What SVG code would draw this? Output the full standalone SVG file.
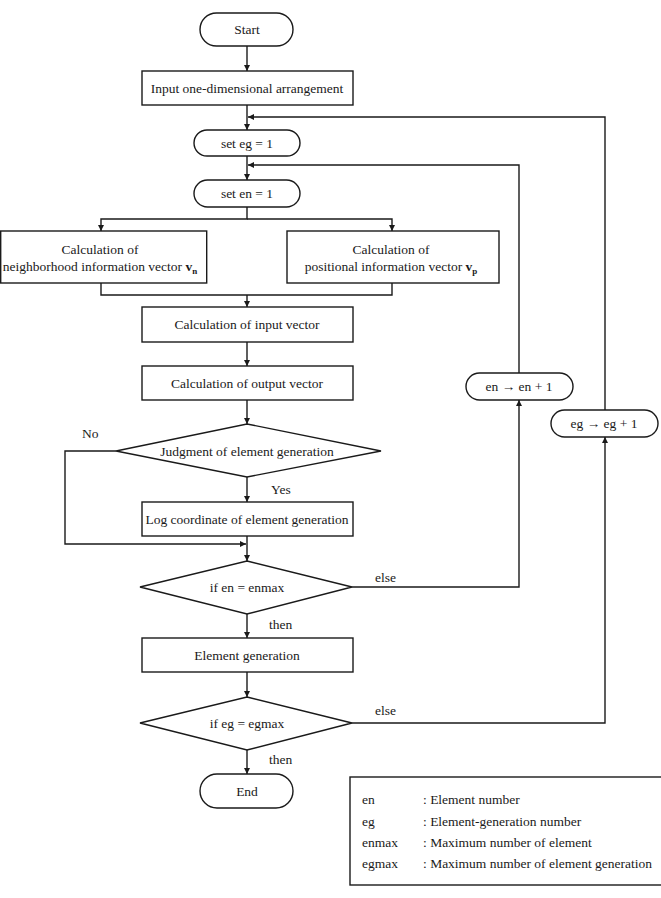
<svg xmlns="http://www.w3.org/2000/svg" width="661" height="898" viewBox="0 0 661 898" font-family="'Liberation Serif', 'Times New Roman', 'DejaVu Serif', serif" font-size="13">
<style>
.s{fill:#fff;stroke:#1a1a1a;stroke-width:1.4}
.c{fill:none;stroke:#1a1a1a;stroke-width:1.4}
text{font-family:'Liberation Serif','Times New Roman','DejaVu Serif',serif;font-size:13.5px;fill:#1a1a1a}
.m{text-anchor:middle}
.b{font-weight:bold}
</style>
<defs>
<marker id="a" markerWidth="8" markerHeight="8" refX="6" refY="3" orient="auto" markerUnits="userSpaceOnUse"><path d="M0,0 L6,3 L0,6 Z" fill="#1a1a1a"/></marker>
</defs>
<rect width="661" height="898" fill="#fff"/>
<g id="connectors">
<path class="c" d="M247,46 V71" marker-end="url(#a)"/>
<path class="c" d="M247,105 V130" marker-end="url(#a)"/>
<path class="c" d="M605,410 V117 H248" marker-end="url(#a)"/>
<path class="c" d="M247,156 V180" marker-end="url(#a)"/>
<path class="c" d="M519,373 V165 H248" marker-end="url(#a)"/>
<path class="c" d="M247,207 V219 H101 V231" marker-end="url(#a)"/>
<path class="c" d="M247,219 H392 V231" marker-end="url(#a)"/>
<path class="c" d="M101,283 V295 H392 V283"/>
<path class="c" d="M247,295 V307" marker-end="url(#a)"/>
<path class="c" d="M247,342 V366" marker-end="url(#a)"/>
<path class="c" d="M247,400 V424" marker-end="url(#a)"/>
<path class="c" d="M247,477 V502" marker-end="url(#a)"/>
<path class="c" d="M116,451 H65 V544 H246" marker-end="url(#a)"/>
<path class="c" d="M247,536 V561" marker-end="url(#a)"/>
<path class="c" d="M352,587 H519 V400" marker-end="url(#a)"/>
<path class="c" d="M247,614 V638" marker-end="url(#a)"/>
<path class="c" d="M247,672 V697" marker-end="url(#a)"/>
<path class="c" d="M352,723 H605 V437" marker-end="url(#a)"/>
<path class="c" d="M247,750 V774" marker-end="url(#a)"/>
</g>
<g id="start"><rect class="s" x="200" y="13" width="93" height="33" rx="16.5"/><text class="m" x="247" y="34">Start</text></g>
<g id="input"><rect class="s" x="142" y="71" width="211" height="34"/><text class="m" x="247" y="93">Input one-dimensional arrangement</text></g>
<g id="seteg"><rect class="s" x="194" y="130" width="106" height="26" rx="13"/><text class="m" x="247" y="148">set eg = 1</text></g>
<g id="seten"><rect class="s" x="194" y="180" width="106" height="27" rx="13.5"/><text class="m" x="247" y="198">set en = 1</text></g>
<g id="neigh"><rect class="s" x="0.7" y="231" width="206" height="52"/><text class="m" x="100" y="254">Calculation of</text><text class="m" x="100" y="271">neighborhood information vector <tspan class="b">  v</tspan><tspan class="b" font-size="9" dy="3">n</tspan></text></g>
<g id="pos"><rect class="s" x="287" y="231" width="212" height="52"/><text class="m" x="391" y="254">Calculation of</text><text class="m" x="391" y="271">positional information vector <tspan class="b">  v</tspan><tspan class="b" font-size="9" dy="3">p</tspan></text></g>
<g id="inputvec"><rect class="s" x="142" y="307" width="211" height="35"/><text class="m" x="247" y="329">Calculation of input vector</text></g>
<g id="outputvec"><rect class="s" x="142" y="366" width="211" height="34"/><text class="m" x="247" y="388">Calculation of output vector</text></g>
<g id="judge"><path class="s" d="M247,424 L381,451 L247,477 L116,451 Z"/><text class="m" x="247" y="456">Judgment of element generation</text></g>
<text x="82" y="438">No</text>
<text x="271" y="494">Yes</text>
<g id="log"><rect class="s" x="142" y="502" width="211" height="34"/><text class="m" x="247" y="524">Log coordinate of element generation</text></g>
<g id="ifen"><path class="s" d="M247,561 L352,587 L247,614 L140,587 Z"/><text class="m" x="247" y="592">if en = enmax</text></g>
<text x="375" y="582">else</text>
<text x="269" y="629">then</text>
<g id="engen"><rect class="s" x="142" y="638" width="211" height="34"/><text class="m" x="247" y="660">Element generation</text></g>
<g id="ifeg"><path class="s" d="M247,697 L352,723 L247,750 L140,723 Z"/><text class="m" x="247" y="728">if eg = egmax</text></g>
<text x="375" y="715">else</text>
<text x="269" y="764">then</text>
<g id="end"><rect class="s" x="200" y="774" width="93" height="34" rx="17"/><text class="m" x="247" y="796">End</text></g>
<g id="enplus"><rect class="s" x="466" y="373" width="107" height="27" rx="13.5"/><text class="m" x="519" y="391">en → en + 1</text></g>
<g id="egplus"><rect class="s" x="551" y="410" width="107" height="27" rx="13.5"/><text class="m" x="604" y="428">eg → eg + 1</text></g>
<g id="legend"><rect class="s" x="350" y="777" width="320" height="108"/>
<text x="362" y="804">en</text><text x="423" y="804">: Element number</text>
<text x="362" y="826">eg</text><text x="423" y="826">: Element-generation number</text>
<text x="362" y="847">enmax</text><text x="423" y="847">: Maximum number of element</text>
<text x="362" y="868">egmax</text><text x="423" y="868">: Maximum number of element generation</text>
</g>
</svg>
